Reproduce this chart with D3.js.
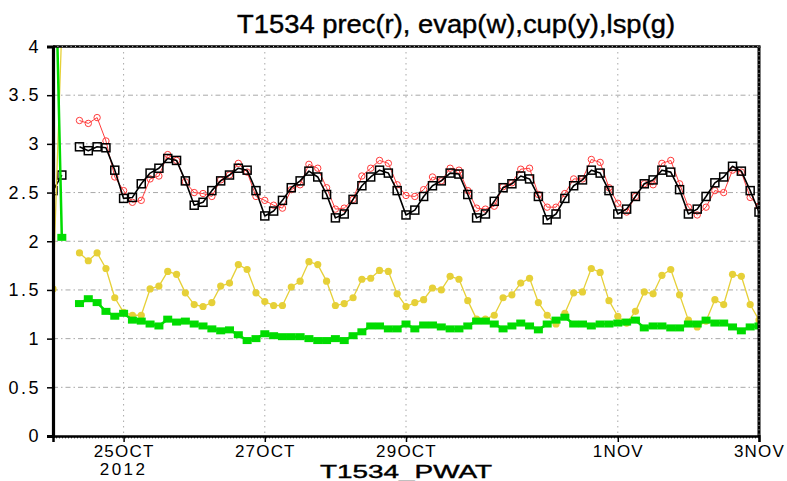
<!DOCTYPE html>
<html><head><meta charset="utf-8">
<script src="https://cdn.jsdelivr.net/npm/d3@7"></script>
<style>body{margin:0;background:#fff} svg{display:block}</style>
</head><body><svg id="c" width="787" height="481"></svg>
<script>
// ---- data (3-hourly, starting 24 Oct 2012 00Z) ----
const startTime = Date.UTC(2012, 9, 24, 0);
const stepHours = 3;
const prec = [null,null,null,3.24,3.21,3.27,3.03,2.66,2.52,2.40,2.42,2.64,2.67,2.89,2.83,2.61,2.50,2.49,2.46,2.63,2.68,2.80,2.71,2.46,2.42,2.37,2.34,2.53,2.58,2.79,2.75,2.55,2.33,2.34,2.43,2.67,2.75,2.83,2.80,2.58,2.47,2.46,2.53,2.66,2.62,2.75,2.73,2.52,2.34,2.33,2.36,2.56,2.60,2.74,2.75,2.48,2.35,2.35,2.49,2.64,2.64,2.84,2.81,2.55,2.39,2.30,2.46,2.59,2.58,2.80,2.83,2.59,2.35,2.27,2.35,2.52,2.50,2.73,2.71,2.45,2.36];
const evap = [2.52,2.68,null,2.97,2.93,2.97,2.96,2.73,2.44,2.45,2.59,2.70,2.75,2.85,2.83,2.62,2.37,2.40,2.52,2.62,2.68,2.75,2.73,2.52,2.26,2.31,2.42,2.55,2.62,2.72,2.66,2.48,2.24,2.28,2.43,2.57,2.66,2.73,2.70,2.52,2.27,2.32,2.46,2.57,2.62,2.70,2.69,2.48,2.24,2.28,2.41,2.55,2.59,2.67,2.64,2.46,2.22,2.28,2.44,2.57,2.63,2.73,2.70,2.52,2.28,2.33,2.46,2.59,2.63,2.73,2.71,2.53,2.28,2.33,2.46,2.60,2.66,2.77,2.72,2.52,2.30];
const cup = [1.51,4.2,null,1.88,1.80,1.88,1.72,1.42,1.27,1.24,1.24,1.51,1.54,1.69,1.66,1.47,1.35,1.33,1.37,1.54,1.57,1.76,1.71,1.47,1.38,1.34,1.34,1.53,1.59,1.79,1.76,1.59,1.34,1.36,1.42,1.61,1.62,1.70,1.69,1.46,1.33,1.37,1.40,1.52,1.50,1.64,1.61,1.39,1.20,1.20,1.24,1.42,1.45,1.57,1.62,1.37,1.24,1.15,1.26,1.47,1.48,1.72,1.68,1.39,1.23,1.16,1.28,1.48,1.46,1.65,1.71,1.45,1.19,1.12,1.18,1.40,1.35,1.66,1.64,1.35,1.19];
const lsp = [6.0,2.04,null,1.36,1.41,1.37,1.28,1.23,1.26,1.19,1.18,1.15,1.13,1.20,1.17,1.18,1.15,1.13,1.10,1.08,1.09,1.04,0.98,1.00,1.05,1.03,1.02,1.02,1.02,1.00,0.98,0.98,1.00,0.98,1.03,1.07,1.13,1.13,1.10,1.10,1.15,1.10,1.14,1.14,1.12,1.10,1.10,1.13,1.18,1.18,1.15,1.10,1.13,1.16,1.13,1.09,1.15,1.19,1.22,1.15,1.15,1.13,1.15,1.15,1.16,1.17,1.19,1.11,1.13,1.13,1.11,1.11,1.15,1.15,1.19,1.16,1.16,1.12,1.08,1.12,1.13];
const xTickDates = ["2012-10-25","2012-10-27","2012-10-29","2012-11-01","2012-11-03"];
const xTickLabels = ["25OCT","27OCT","29OCT","1NOV","3NOV"];
const xGridDates = ["2012-10-25","2012-10-27","2012-10-29","2012-11-01"];
const yTicks = [0,0.5,1,1.5,2,2.5,3,3.5,4];
const yTickLabels = ["0","0.5","1","1.5","2","2.5","3","3.5","4"];
const yGrid = [0.5,1,1.5,2,2.5,3,3.5];
const titleText = "T1534 prec(r), evap(w),cup(y),lsp(g)";
const nextTitleText = "T1534_PWAT";

// ---- layout ----
const svg = d3.select("#c");
const L = 53, R = 759, T = 46.5, B = 436;
const FONT = "'Liberation Sans', Arial, sans-serif";
const times = prec.map((_, i) => new Date(startTime + i * stepHours * 3600e3));
const x = d3.scaleUtc().domain([new Date(startTime), new Date(Date.UTC(2012,10,3))]).range([L, R]);
const y = d3.scaleLinear().domain([0, 4]).range([B, T]);
const parse = s => new Date(s + "T00:00:00Z");

svg.append("defs").append("clipPath").attr("id","clip")
  .append("rect").attr("x", L).attr("y", T).attr("width", R - L).attr("height", B - T);

// grid
const grid = svg.append("g");
grid.selectAll("line.h").data(yGrid).join("line")
  .attr("x1", L).attr("x2", R).attr("y1", d => y(d)).attr("y2", d => y(d))
  .attr("stroke", "#a8a8a8").attr("stroke-width", 1).attr("stroke-dasharray", "5,3,1.5,3");
grid.selectAll("line.v").data(xGridDates).join("line")
  .attr("x1", d => x(parse(d))).attr("x2", d => x(parse(d))).attr("y1", T).attr("y2", B)
  .attr("stroke", "#a8a8a8").attr("stroke-width", 1).attr("stroke-dasharray", "1.5,4");

// series
const plot = svg.append("g").attr("clip-path", "url(#clip)");
function drawSeries(vals, color, lw) {
  const pts = vals.map((v, i) => ({t: times[i], v}));
  plot.append("path").datum(pts)
    .attr("fill","none").attr("stroke", color).attr("stroke-width", lw)
    .attr("stroke-linejoin","round")
    .attr("d", d3.line().defined(d => d.v != null).x(d => x(d.t)).y(d => y(d.v)));
  return pts.filter(d => d.v != null);
}
const red = "#ff3b3b", yel = "#e6d038", grn = "#00dc00";
const pPts = drawSeries(prec, red, 1);
plot.selectAll("circle.p").data(pPts).join("circle")
  .attr("cx", d => x(d.t)).attr("cy", d => y(d.v)).attr("r", 3.2)
  .attr("fill","none").attr("stroke", red).attr("stroke-width", 1);
const ePts = drawSeries(evap, "#000", 1.6);
plot.selectAll("rect.e").data(ePts).join("rect")
  .attr("x", d => x(d.t) - 4).attr("y", d => y(d.v) - 4).attr("width", 8).attr("height", 8)
  .attr("fill","white").attr("fill-opacity",0).attr("stroke","#000").attr("stroke-width",1.5);
const cPts = drawSeries(cup, yel, 1.3);
plot.selectAll("circle.c").data(cPts).join("circle")
  .attr("cx", d => x(d.t)).attr("cy", d => y(d.v)).attr("r", 3.6).attr("fill", yel);
const gPts = drawSeries(lsp, grn, 2.5);
plot.selectAll("rect.g").data(gPts).join("rect")
  .attr("x", d => x(d.t) - 4.5).attr("y", d => y(d.v) - 3.5).attr("width", 9).attr("height", 7)
  .attr("fill", grn);

// frame
const frame = svg.append("g");
frame.append("line").attr("x1", L).attr("x2", R + 1.5).attr("y1", T).attr("y2", T).attr("stroke","#000").attr("stroke-width",2.5);
frame.append("line").attr("x1", L).attr("x2", R + 1.5).attr("y1", T).attr("y2", T).attr("stroke","#fff").attr("stroke-width",0.8).attr("stroke-dasharray","1,3.4");
frame.append("line").attr("x1", R).attr("x2", R).attr("y1", T).attr("y2", B).attr("stroke","#000").attr("stroke-width",3);
frame.append("line").attr("x1", R).attr("x2", R).attr("y1", T).attr("y2", B).attr("stroke","#fff").attr("stroke-width",0.8).attr("stroke-dasharray","1,3.4");

// axes
const yAxis = d3.axisLeft(y).tickValues(yTicks).tickSize(6).tickPadding(8)
  .tickFormat((d, i) => yTickLabels[i]);
const gy = svg.append("g").attr("transform", `translate(${L},0)`).call(yAxis);
gy.select(".domain").attr("stroke-width", 3.2);
gy.selectAll(".tick line").attr("stroke-width", 1.5);
gy.selectAll("text").attr("font-family", FONT).attr("font-size", 18).attr("fill","#000")
  .attr("letter-spacing", 2.5).attr("dx", 2);

const xAxis = d3.axisBottom(x).tickValues(xTickDates.map(parse)).tickSize(6).tickPadding(3)
  .tickFormat((d, i) => xTickLabels[i]);
const gx = svg.append("g").attr("transform", `translate(0,${B})`).call(xAxis);
gx.select(".domain").attr("stroke-width", 2.5);
gx.selectAll(".tick line").attr("stroke-width", 1.5);
gx.selectAll("text").attr("font-family", FONT).attr("font-size", 17).attr("fill","#000")
  .attr("letter-spacing", 1.2);
svg.append("line").attr("x1", L).attr("x2", R).attr("y1", B + 1.8).attr("y2", B + 1.8)
  .attr("stroke","#000").attr("stroke-width",1).attr("stroke-dasharray","1,2");
svg.append("text").attr("x", x(parse(xTickDates[0]))).attr("y", 475).attr("text-anchor","middle")
  .attr("font-family", FONT).attr("font-size", 17).attr("letter-spacing", 2.5).text("2012");

// titles
svg.append("text").attr("x", 237).attr("y", 33).attr("font-family", FONT).attr("font-size", 26)
  .attr("stroke","#000").attr("stroke-width",0.4)
  .attr("textLength", 438).attr("lengthAdjust","spacingAndGlyphs").text(titleText);
svg.append("text").attr("x", 320).attr("y", 478).attr("font-family", FONT).attr("font-size", 18)
  .attr("stroke","#000").attr("stroke-width",0.4)
  .attr("textLength", 172).attr("lengthAdjust","spacingAndGlyphs").text(nextTitleText);
</script></body></html>
